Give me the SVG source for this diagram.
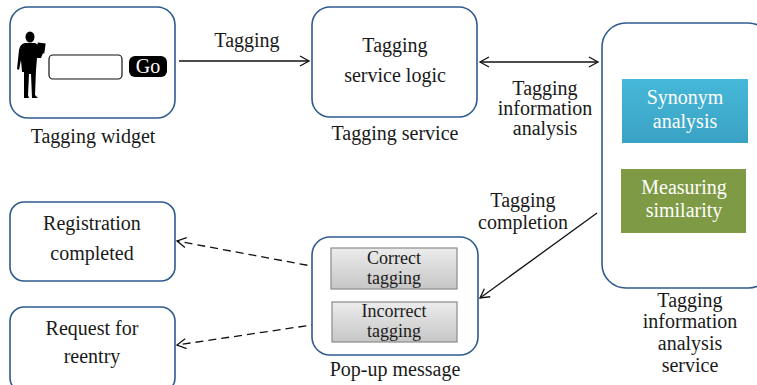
<svg xmlns="http://www.w3.org/2000/svg" width="757" height="385" viewBox="0 0 757 385">
<defs>
<style>
.box{fill:#fff;stroke:#2f5b8e;stroke-width:1.6}
.t{font-size:20px;fill:#1a1a1a;text-anchor:middle}
.s{font-size:18px}
.ln{stroke:#111;stroke-width:1.3;fill:none}
.dash{stroke:#111;stroke-width:1.3;fill:none;stroke-dasharray:8 5}
.pbox{fill:url(#gray);stroke:#8a8a8a;stroke-width:1.2}
</style>
<linearGradient id="gray" x1="0" y1="0" x2="0" y2="1"><stop offset="0" stop-color="#ececec"/><stop offset="1" stop-color="#c6c6c6"/></linearGradient>
<linearGradient id="blue" x1="0" y1="0" x2="0" y2="1"><stop offset="0" stop-color="#46b8d9"/><stop offset="1" stop-color="#3aa2c4"/></linearGradient>
<marker id="ah" markerWidth="12" markerHeight="12" refX="10" refY="6" orient="auto-start-reverse" markerUnits="userSpaceOnUse"><path d="M1,1 L10,6 L1,11" fill="none" stroke="#111" stroke-width="1.3"/></marker>
</defs>
<rect width="757" height="385" fill="#fff"/>
<g font-family="Liberation Serif, DejaVu Serif, Times New Roman, serif">
<g id="connectors">
<line class="ln" x1="179" y1="61" x2="309" y2="61" marker-end="url(#ah)"/>
<line class="ln" x1="480" y1="62" x2="598" y2="62" marker-start="url(#ah)" marker-end="url(#ah)"/>
<line class="ln" x1="597" y1="213" x2="480" y2="298" marker-end="url(#ah)"/>
<line class="dash" x1="333" y1="270" x2="177" y2="241" marker-end="url(#ah)"/>
<line class="dash" x1="332" y1="322" x2="177" y2="345" marker-end="url(#ah)"/>
<text class="t" x="247" y="47">Tagging</text>
<text class="t" x="545" y="95">Tagging</text>
<text class="t" x="545" y="115">information</text>
<text class="t" x="545" y="135">analysis</text>
<text class="t" x="523" y="207">Tagging</text>
<text class="t" x="523" y="229">completion</text>
</g>

<g id="tagging-widget">
<rect class="box" x="10" y="7" width="165" height="111" rx="18"/>
<ellipse cx="30" cy="37" rx="4.5" ry="5.5" fill="#000"/>
<path d="M25,43 L35,43 Q38,44 39,47 L44,46 L45,48 L41,58 L37,58 L36,70 L35,95 L38,98 L32,98 L31,74 L29,74 L28,95 L29,98 L24,98 L24,72 L22,72 L21,60 L19,70 L17,69 L19,50 Q20,44 25,43 Z" fill="#000"/>
<rect x="37" y="43" width="8" height="10" fill="#000" transform="rotate(8 41 48)"/>
<rect x="49" y="55" width="73" height="24" rx="4" fill="#fff" stroke="#111" stroke-width="1.2"/>
<rect x="129" y="56" width="38" height="21" rx="6" fill="#000"/>
<text class="t" x="148" y="73" style="fill:#fff">Go</text>
<text class="t" x="93" y="143">Tagging widget</text>
</g>

<g id="tagging-service">
<rect class="box" x="312" y="7" width="165" height="110" rx="18"/>
<text class="t" x="395" y="52">Tagging</text>
<text class="t" x="395" y="82">service logic</text>
<text class="t" x="395" y="140">Tagging service</text>
</g>

<g id="analysis-service">
<rect class="box" x="602" y="23" width="170" height="265" rx="24"/>
<rect x="622" y="79" width="126" height="64" fill="url(#blue)"/>
<text class="t" x="685" y="104" style="fill:#fff">Synonym</text>
<text class="t" x="685" y="128" style="fill:#fff">analysis</text>
<rect x="621" y="169" width="125" height="64" fill="#7e9a45"/>
<text class="t" x="684" y="194" style="fill:#fff">Measuring</text>
<text class="t" x="684" y="217" style="fill:#fff">similarity</text>
<text class="t" x="690" y="307">Tagging</text>
<text class="t" x="690" y="328">information</text>
<text class="t" x="690" y="350">analysis</text>
<text class="t" x="690" y="372">service</text>
</g>

<g id="popup">
<rect class="box" x="312" y="237" width="166" height="118" rx="18"/>
<rect class="pbox" x="331" y="248" width="126" height="41"/>
<text class="t s" x="394" y="264">Correct</text>
<text class="t s" x="394" y="284">tagging</text>
<rect class="pbox" x="332" y="302" width="125" height="40"/>
<text class="t s" x="394" y="317">Incorrect</text>
<text class="t s" x="394" y="337">tagging</text>
<text class="t" x="395" y="376">Pop-up message</text>
</g>

<g id="registration">
<rect class="box" x="10" y="202" width="165" height="79" rx="14"/>
<text class="t" x="92" y="230">Registration</text>
<text class="t" x="92" y="260">completed</text>
</g>

<g id="reentry">
<rect class="box" x="10" y="307" width="165" height="85" rx="14"/>
<text class="t" x="92" y="335">Request for</text>
<text class="t" x="92" y="363">reentry</text>
</g>
</g>
</svg>
